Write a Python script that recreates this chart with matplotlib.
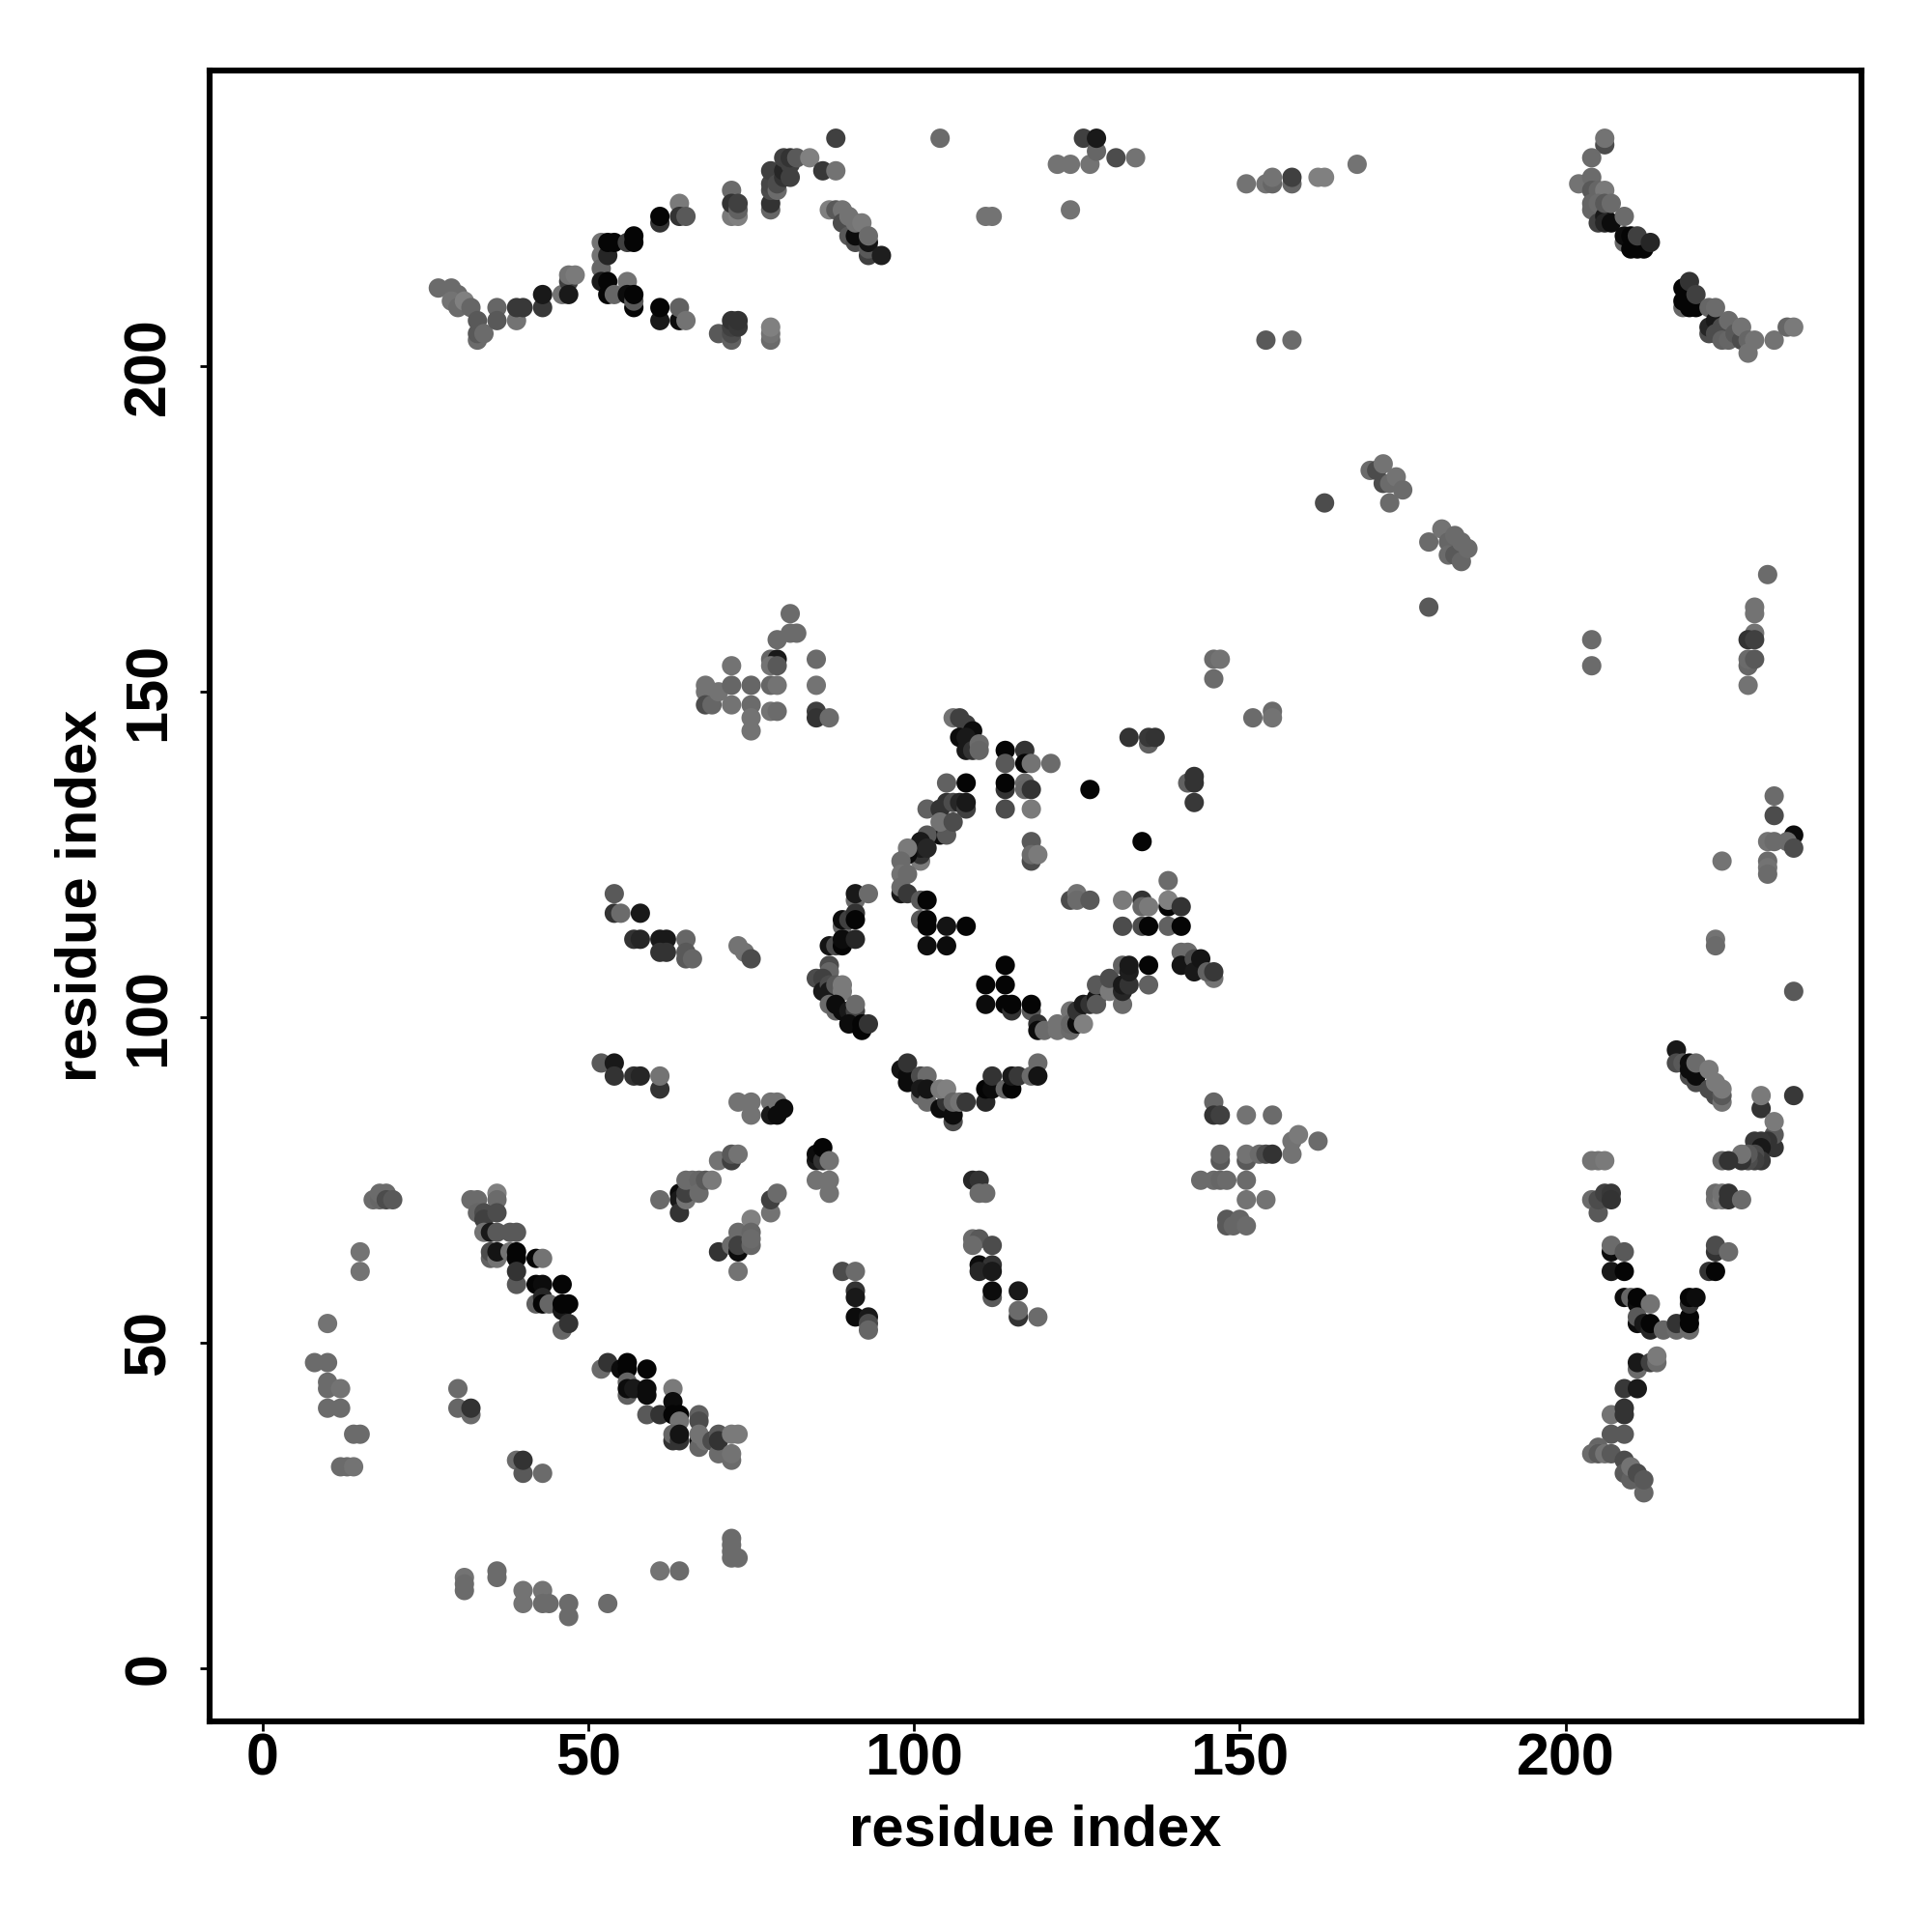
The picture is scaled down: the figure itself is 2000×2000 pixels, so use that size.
import matplotlib
matplotlib.use("Agg")
import matplotlib.pyplot as plt

# each contact: (residue i, residue j, grey level)
top_left = [(27,212,.42),(29,212,.42),(30,211,.42),(29,210,.45),(30,209,.42),(31,210,.5),(32,209,.4),(33,207,.35),(33,204,.42),(33,205,.35),(34,205,.42),
(36,209,.4),(36,207,.35),(39,207,.45),(39,209,.22),(40,209,.22),(43,209,.22),(43,211,.1),(46,211,.45),(47,213,.25),(47,211,.1),(47,214,.45),(48,214,.48),
(52,219,.45),(52,217,.45),(52,215,.4),(52,213,.1),(53,217,.15),(53,219,.02),(53,213,.02),(53,211,.02),(54,219,.02),(54,211,.4),(56,213,.45),(56,211,.05),(56,219,.25),
(57,220,.02),(57,219,.02),(57,209,.02),(57,210,.35),(57,211,.02),(61,222,.2),(61,223,.02),(61,207,.1),(61,209,.02),(64,225,.48),(64,223,.2),(65,223,.35),(64,207,.05),(64,209,.38),(65,207,.45),
(70,205,.35),(72,227,.42),(72,223,.48),(72,225,.2),(73,223,.5),(73,224,.38),(73,225,.25),(72,204,.38),(72,205,.3),(72,206,.25),(72,207,.2),(73,206,.22),(73,207,.2),
(78,224,.4),(78,225,.2),(78,227,.3),(78,228,.28),(78,230,.25),(79,227,.42),(79,228,.3),(80,229,.2),(80,230,.15),(81,229,.25),(81,231,.25),(80,232,.25),(81,232,.2),(82,232,.35),(84,232,.5),
(86,230,.22),(88,230,.45),(88,235,.25),(78,204,.42),(78,205,.45),(78,206,.5),
(87,224,.5),(88,224,.35),(89,224,.45),(89,222,.3),(90,220,.35),(90,223,.45),(91,219,.3),(91,220,.05),(91,222,.45),(92,222,.48),(93,217,.25),(93,218,.35),(93,219,.08),(93,220,.42),(95,217,.12)]

top_mid = [(104,235,.42),(111,223,.45),(112,223,.45),(122,231,.45),(124,231,.45),(124,224,.45),(126,235,.25),(127,231,.45),(128,233,.4),(128,235,.1),(131,232,.3),(134,232,.45),
(151,228,.45),(154,228,.45),(155,228,.4),(155,229,.45),(158,228,.4),(158,229,.25),(162,229,.5),(163,229,.5),(168,231,.45),(154,204,.35),(158,204,.42)]

top_right = [(206,234,.3),(206,235,.45),(204,232,.42),(202,228,.45),(204,229,.42),(204,227,.35),(205,227,.4),(206,227,.48),(204,224,.4),(204,225,.4),(205,222,.25),(205,225,.42),
(206,223,.1),(206,222,.15),(206,225,.35),(207,222,.05),(207,225,.42),(209,219,.4),(209,223,.42),(209,220,.05),(210,220,.02),(210,218,.02),(211,218,.02),(212,218,.02),(211,220,.25),(213,219,.15),
(218,209,.4),(218,210,.02),(218,212,.02),(219,209,.02),(219,211,.02),(219,213,.2),(220,209,.02),(220,211,.25),(222,205,.3),(222,206,.15),(222,209,.4),(223,207,.1),(223,205,.3),(223,209,.42),
(224,206,.3),(224,204,.38),(225,204,.4),(225,207,.42),(226,205,.35),(227,204,.3),(227,206,.45),(228,204,.4),(228,202,.45),(229,204,.45),(232,204,.45),(234,206,.4),(235,206,.48)]

upper_mid = [(163,179,.3),(170,184,.42),(171,184,.3),(172,185,.45),(172,182,.3),(173,182,.42),(174,183,.45),(175,181,.42),(173,179,.42),
(179,173,.42),(181,175,.45),(182,173,.4),(182,171,.42),(183,171,.35),(183,174,.42),(184,170,.4),(184,173,.42),(185,172,.42),(179,163,.35),
(152,146,.42),(155,147,.42),(155,146,.45),(146,155,.42),(147,155,.45),(146,152,.42),
(81,162,.42),(79,158,.42),(81,159,.42),(82,159,.42),(78,155,.4),(79,155,.1),(78,154,.45),(79,154,.35),(78,151,.4),(79,151,.45),(78,147,.45),(79,147,.42),
(85,155,.42),(85,151,.45),(85,147,.25),(85,146,.2),(87,146,.42),
(68,151,.45),(68,150,.45),(68,148,.3),(69,148,.4),(70,150,.45),(72,154,.45),(72,151,.4),(72,148,.45),(75,151,.4),(75,148,.42),(75,146,.45),(75,144,.45)]

right_side = [(204,158,.42),(204,154,.42),(231,168,.42),(229,163,.45),(229,162,.45),(229,159,.45),(228,158,.2),(229,158,.25),(228,154,.4),(228,155,.42),(229,155,.35),(228,151,.45),
(232,134,.42),(232,131,.3),(235,128,.05),(231,127,.45),(232,127,.42),(234,127,.42),(235,126,.3),(224,124,.45),(231,124,.42),(231,123,.45),(231,122,.42),(223,112,.45),(223,111,.42),(235,104,.35)]

centre_ring = [(106,146,.45),(107,146,.25),(108,145,.25),(109,144,.05),(107,143,.05),(108,143,.1),(108,141,.1),(109,141,.2),(110,142,.42),(110,141,.4),
(114,141,.02),(117,141,.2),(114,139,.35),(117,139,.02),(118,139,.45),(121,139,.42),(114,135,.2),(114,136,.02),(117,136,.42),(117,135,.4),(118,135,.2),(114,132,.3),(118,132,.48),
(127,135,.02),(133,143,.2),(136,142,.38),(136,143,.22),(137,143,.2),(142,136,.38),(143,137,.2),(143,136,.2),(143,133,.22),(135,127,.02),
(118,124,.3),(118,127,.35),(118,125,.42),(119,125,.48),(105,136,.38),(108,136,.02),(102,132,.38),(104,132,.2),(105,133,.2),(106,133,.3),(107,133,.15),(108,132,.25),(108,133,.1),
(104,128,.05),(105,128,.35),(104,130,.45),(106,130,.3),(102,128,.35),(101,127,.1),(101,124,.48),(101,125,.2),(101,126,.1),(102,126,.15),
(99,125,.05),(99,126,.48),(98,124,.42),(98,122,.45),(99,122,.42),(98,119,.1),(98,120,.42),(99,119,.22),(101,118,.35),(102,118,.02),(101,115,.35),(102,115,.02),(102,114,.02),(105,114,.08),(108,114,.02),(102,111,.06),(105,111,.05),
(91,118,.42),(91,119,.1),(93,119,.42),(89,114,.4),(89,115,.05),(90,115,.25),(91,116,.2),(91,115,.02),(87,111,.08),(88,111,.3),(89,111,.02),(89,112,.05),(91,112,.15),
(87,108,.3),(87,107,.4),(85,106,.3),(86,106,.25),(86,104,.1),(87,105,.3),(87,104,.1),(88,105,.35),(89,104,.48),(89,105,.48),(87,102,.42),(88,101,.4),(88,102,.05),(89,101,.05),(90,101,.1),(91,101,.25),(91,102,.42),
(90,99,.05),(92,98,.02),(92,99,.02),(93,99,.2),
(98,92,.08),(99,90,.05),(99,91,.05),(99,93,.2),(101,91,.3),(102,91,.42),(101,88,.42),(101,89,.1),(102,87,.42),(102,89,.08),(104,86,.05),(105,87,.2),(104,89,.48),(105,89,.5),(106,84,.3),(106,85,.05),(106,87,.4),(107,87,.45),(108,87,.22),
(111,87,.15),(111,89,.02),(112,89,.05),(112,91,.2),(114,89,.4),(115,89,.02),(115,91,.1),(116,91,.22),(118,91,.42),(119,93,.42),(119,91,.08),
(139,121,.42),(132,118,.48),(135,118,.2),(135,117,.4),(136,117,.48),(139,117,.02),(139,118,.5),(141,117,.2),(132,114,.3),(135,114,.3),(136,114,.02),(139,114,.38),(141,114,.02),
(124,118,.3),(125,119,.45),(125,118,.42),(127,118,.35),(114,108,.02),(111,105,.02),(114,105,.02),(111,102,.05),(114,102,.02),(115,101,.2),(115,102,.02),(118,101,.35),(118,102,.02),
(119,99,.2),(119,98,.05),(120,98,.42),(122,99,.45),(122,98,.45),(124,101,.45),(124,98,.42),(124,99,.4),(125,99,.05),(125,101,.2),(126,102,.1),(126,99,.5),(127,102,.2),(128,103,.08),(128,102,.35),(128,105,.35),
(130,104,.48),(130,106,.3),(132,102,.42),(132,104,.15),(132,105,.1),(132,108,.38),(133,105,.2),(133,107,.12),(133,108,.1),(136,108,.02),(136,105,.38),
(141,110,.42),(142,110,.42),(141,108,.08),(143,109,.3),(143,107,.1),(144,109,.08),(146,106,.45),(145,107,.38),(146,107,.22)]

lower_left = [(32,72,.42),(33,72,.42),(36,73,.5),(36,72,.42),(33,70,.4),(34,70,.3),(34,69,.25),(36,70,.3),(34,67,.45),(35,67,.1),(36,67,.35),(38,67,.35),(39,67,.35),
(35,63,.38),(35,64,.3),(36,63,.45),(36,64,.08),(38,64,.45),(39,63,.02),(39,64,.02),(39,59,.35),(39,61,.2),(42,63,.02),(43,63,.45),
(42,56,.38),(42,59,.02),(43,59,.05),(46,59,.02),(43,57,.15),(43,56,.02),(44,56,.4),(46,55,.1),(46,56,.02),(47,56,.02),(46,52,.4),(47,53,.2),
(52,46,.42),(53,47,.2),(55,46,.05),(56,47,.02),(56,46,.02),(59,46,.02),(56,42,.38),(56,44,.4),(56,43,.05),(57,43,.1),(59,43,.05),(59,42,.05),(59,39,.35),(61,39,.2),
(63,43,.48),(63,41,.05),(63,39,.02),(64,39,.02),(64,38,.45),(63,35,.2),(63,36,.4),(64,35,.2),(64,36,.08),(67,39,.38),(67,38,.3),(67,35,.05),(67,34,.4),(67,36,.45),(68,35,.45),(69,35,.3),(70,33,.42),(70,36,.35),(70,35,.2),
(72,32,.42),(72,33,.45),(72,36,.48),(73,36,.48),
(30,43,.42),(30,40,.4),(32,39,.42),(32,40,.2),(39,32,.42),(40,30,.35),(40,32,.2),(43,30,.42)]

far_left = [(8,47,.42),(10,47,.42),(10,53,.45),(10,44,.42),(10,43,.42),(12,43,.45),(10,40,.42),(12,40,.42),(14,36,.42),(15,36,.42),(12,31,.42),(13,31,.42),(14,31,.45),
(15,61,.45),(15,64,.45),(17,72,.42),(18,72,.4),(18,73,.42),(19,73,.42),(19,72,.3),(20,72,.35),
(31,14,.45),(31,12,.42),(31,13,.42),(36,15,.42),(36,14,.42),(40,12,.45),(40,10,.45),(43,12,.45),(43,10,.42),(44,10,.42),(47,10,.42),(47,8,.42),(53,10,.42),(61,15,.45),(64,15,.42),
(72,20,.42),(72,19,.42),(72,18,.42),(72,17,.42),(73,17,.42)]

mid_left = [(54,119,.35),(54,116,.2),(55,116,.42),(57,112,.2),(58,116,.1),(58,112,.15),(61,112,.1),(62,112,.1),(61,110,.2),(62,110,.2),(65,112,.4),(65,110,.35),(65,109,.35),(66,109,.4),
(73,111,.45),(74,110,.45),(75,109,.3),(52,93,.35),(54,93,.1),(54,91,.2),(57,91,.2),(58,91,.15),(61,89,.2),(61,91,.45),
(73,87,.45),(75,87,.45),(75,85,.45),(78,87,.45),(78,85,.1),(79,87,.45),(79,85,.05),(80,86,.05),
(85,78,.1),(85,79,.05),(86,78,.2),(86,80,.02),(87,78,.45),(85,75,.45),(87,75,.45),(87,73,.45),(70,78,.45),(72,78,.25),(72,79,.35),(73,79,.45),(78,70,.45),(78,72,.25),(79,73,.42),
(61,72,.42),(64,73,.05),(64,72,.1),(64,70,.2),(65,72,.45),(65,73,.25),(65,75,.42),(66,75,.42),(67,75,.4),(67,73,.42),(68,75,.35),(69,75,.48),
(70,64,.2),(72,65,.42),(73,67,.42),(73,64,.05),(73,65,.25),(73,61,.45),(75,69,.5),(75,67,.4),(75,65,.4),(75,66,.42)]

lower_mid = [(89,61,.3),(91,61,.42),(91,58,.2),(91,57,.1),(91,54,.05),(93,54,.1),(93,53,.3),(93,52,.4),
(109,75,.15),(110,75,.2),(110,73,.42),(111,73,.42),(109,66,.42),(110,66,.35),(109,65,.42),(112,65,.3),(110,62,.05),(112,62,.2),(110,61,.15),(112,61,.1),(112,57,.35),(112,58,.05),(116,58,.1),(116,54,.2),(116,55,.42),(119,54,.42),
(146,87,.4),(146,85,.2),(147,85,.25),(151,85,.45),(155,85,.42),(144,75,.42),(146,75,.42),(147,75,.4),(148,75,.42),(147,78,.35),(147,79,.4),(151,78,.35),(151,79,.45),(153,79,.42),(154,79,.3),(155,79,.2),
(151,75,.42),(151,72,.45),(154,72,.45),(148,69,.35),(148,68,.35),(149,68,.4),(150,69,.4),(151,68,.42),(158,79,.45),(158,81,.45),(159,82,.48),(162,81,.42)]

lower_right = [(217,95,.1),(217,93,.3),(218,93,.35),(219,91,.3),(219,92,.05),(219,93,.05),(220,90,.3),(220,91,.05),(220,93,.42),(222,89,.3),(222,92,.48),(223,88,.3),(223,90,.48),(224,87,.45),(224,88,.35),(224,89,.48),
(230,86,.2),(230,88,.48),(235,88,.22),(232,80,.2),(232,82,.35),(232,84,.48),(231,81,.2),(229,81,.22),(230,81,.22),(230,80,.1),(230,78,.22),(229,79,.3),(229,78,.25),(228,78,.3),(228,79,.35),(227,78,.2),(227,79,.45),(224,78,.4),(225,78,.2),
(204,78,.45),(205,78,.45),(206,78,.48),(204,72,.42),(205,70,.35),(205,72,.3),(206,73,.25),(207,73,.22),(207,72,.2),
(223,72,.45),(223,73,.42),(224,72,.48),(224,73,.45),(225,72,.2),(225,73,.2),(227,72,.42),
(207,64,.05),(207,65,.42),(209,64,.35),(207,61,.1),(209,61,.02),(223,64,.2),(223,65,.3),(225,64,.42),(222,61,.2),(223,61,.02),
(209,57,.05),(210,57,.4),(211,56,.05),(211,57,.02),(213,56,.45),(211,53,.05),(211,54,.35),(212,53,.1),(213,52,.15),(213,53,.02),(215,52,.4),(217,52,.42),(217,53,.2),(219,52,.42),(219,53,.02),(219,54,.02),(219,56,.2),(219,57,.02),(220,57,.05),
(211,46,.42),(211,47,.1),(213,47,.25),(214,47,.42),(214,48,.48),(209,43,.22),(211,43,.1),(207,39,.45),(209,39,.2),(209,40,.2),(207,36,.35),(209,36,.35),
(205,34,.4),(204,33,.42),(205,33,.35),(206,33,.45),(207,33,.35),(209,32,.3),(209,30,.35),(210,29,.38),(210,31,.45),(211,30,.3),(212,27,.4),(212,29,.35)]

tick_vals = [0, 50, 100, 150, 200]
axis_label = "residue index"

contacts = (top_left + top_mid + top_right + upper_mid + right_side + centre_ring
            + lower_left + far_left + mid_left + lower_mid + lower_right)
res_i = [c[0] for c in contacts]
res_j = [c[1] for c in contacts]
shade = [c[2] for c in contacts]

plt.rcParams['font.family'] = ['Liberation Sans', 'DejaVu Sans']
fig = plt.figure(figsize=(10, 10), dpi=200)
ax = fig.add_axes([0.1085, 0.109, 0.855, 0.8545])
ax.scatter(res_i, res_j, c=shade, cmap='gray', vmin=0, vmax=1, s=52, linewidths=0, zorder=3)
ax.set_xlim(-8.1, 245.4)
ax.set_ylim(-8.1, 245.4)
ax.set_xticks(tick_vals)
ax.set_yticks(tick_vals)
ax.tick_params(length=3.5, width=1.0, labelsize=22, pad=8.5)
ax.tick_params(axis='x', pad=0.8)
for t in ax.get_xticklabels():
    t.set_fontweight('bold')
for t in ax.get_yticklabels():
    t.set_fontweight('bold')
    t.set_rotation(90)
    t.set_va('center')
ax.set_xlabel(axis_label, fontsize=21.5, fontweight='bold', labelpad=5.8)
ax.set_ylabel(axis_label, fontsize=21.5, fontweight='bold', labelpad=5.5)
for s in ax.spines.values():
    s.set_linewidth(2.2)
fig.savefig('out.png', dpi=200)
